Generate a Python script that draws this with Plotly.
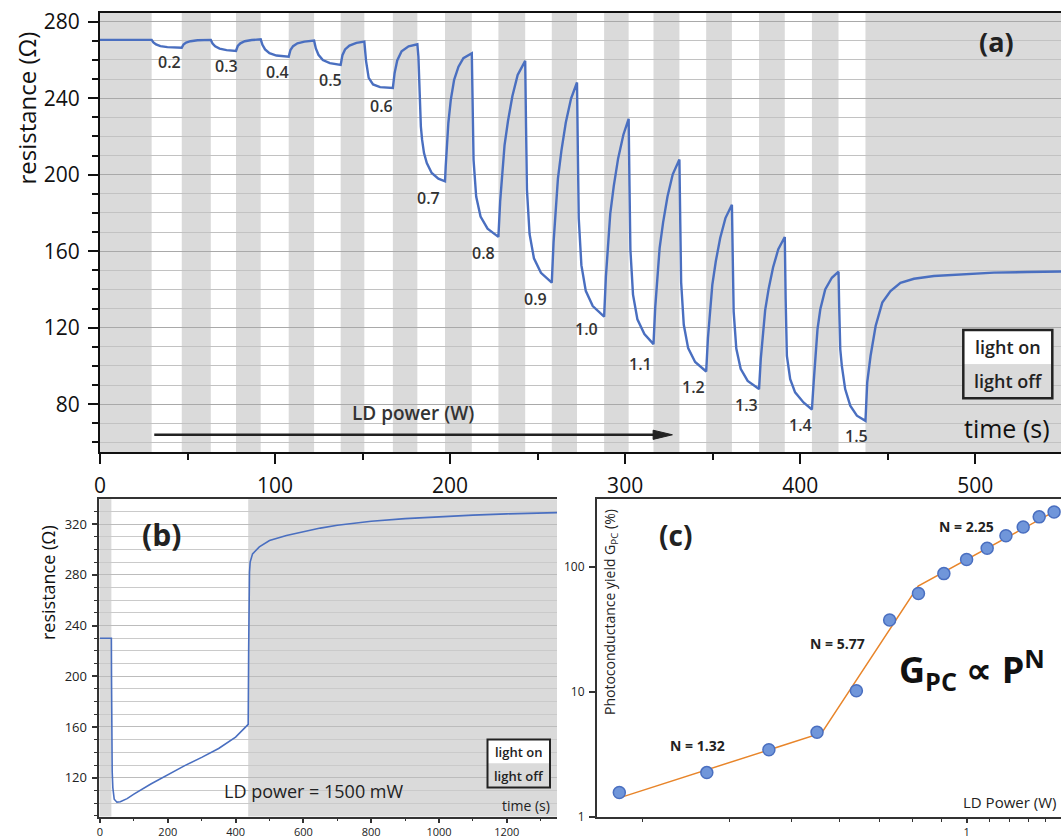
import plotly.graph_objects as go

W, H = 1061, 840
def px(x):
    return x / W
def py(y):
    return 1 - y / H

FONT = "Open Sans"
BLUE = "#4a6fc0"
BAND = "#dadada"

# ---------------- panel (a) data ----------------
on_start_a = [29.5, 63.3, 91.8, 122.3, 151.0, 181.3, 212.4, 242.9, 272.5, 302.0, 331.0, 361.0, 391.2, 421.9]
on_end_a = [46.7, 77.7, 107.8, 137.5, 167.3, 197.1, 227.6, 258.1, 288.0, 316.2, 346.3, 376.5, 406.7, 437.3]
power_labels = ["0.2", "0.3", "0.4", "0.5", "0.6", "0.7", "0.8", "0.9", "1.0", "1.1", "1.2", "1.3", "1.4", "1.5"]
label_t = [39.6, 72.0, 101.3, 131.4, 161.0, 187.6, 219.0, 248.6, 278.1, 308.6, 339.0, 369.5, 400.0, 432.4]
label_r = [258.8, 257.0, 253.9, 249.6, 236.0, 187.9, 158.8, 135.2, 119.2, 100.9, 88.8, 79.5, 68.9, 63.5]

time_a = [0, 29.5,
          30.5, 32.0, 34.5, 38.5, 46.7, 47.7, 49.2, 51.7, 55.7, 63.3,
          64.3, 65.8, 68.3, 72.3, 77.7, 78.7, 80.2, 82.7, 86.7, 91.8,
          92.8, 94.3, 96.8, 100.8, 107.8, 108.8, 110.3, 112.8, 116.8, 122.3,
          123.3, 124.8, 127.3, 131.3, 137.5, 138.5, 140.0, 142.5, 146.5, 151.0,
          152.0, 153.5, 156.0, 160.0, 167.3, 168.3, 169.8, 172.3, 176.3, 181.3,
          181.9, 182.5, 183.3, 184.0, 185.1, 186.7, 189.5, 193.3, 197.1, 197.5, 198.1, 199.0, 200.4, 202.3, 204.8, 207.6, 212.4,
          212.9, 213.4, 214.9, 217.4, 221.4, 227.6, 228.6, 229.6, 231.1, 233.1, 235.6, 238.6, 242.9,
          243.4, 243.9, 245.4, 247.9, 251.9, 258.1, 259.1, 260.1, 261.6, 263.6, 266.1, 269.1, 272.5,
          273.0, 273.5, 275.0, 277.5, 281.5, 288.0, 289.0, 290.0, 291.5, 293.5, 296.0, 299.0, 302.0,
          302.5, 303.0, 304.5, 307.0, 311.0, 316.2, 317.2, 318.2, 319.7, 321.7, 324.2, 327.2, 331.0,
          331.5, 332.0, 333.5, 336.0, 340.0, 346.3, 347.3, 348.3, 349.8, 351.8, 354.3, 357.3, 361.0,
          361.5, 362.0, 363.5, 366.0, 370.0, 376.5, 377.5, 378.5, 380.0, 382.0, 384.5, 387.5, 391.2,
          391.7, 392.4, 394.3, 397.1, 401.9, 406.7, 407.7, 408.6, 409.9, 411.5, 414.3, 418.1, 421.9,
          422.3, 422.9, 423.8, 425.7, 428.6, 432.4, 437.3, 438.3, 440.2, 443.1, 446.9, 451.6, 457.3, 465.0, 476.4, 491.6, 510.7, 529.7, 549.0]
res_a = [270.5, 270.5,
         269.2, 268.1, 267.2, 266.7, 266.4, 268.1, 269.1, 269.8, 270.3, 270.5,
         268.6, 267.1, 265.9, 265.1, 264.7, 267.3, 268.7, 269.8, 270.4, 270.8,
         267.9, 265.5, 263.5, 262.3, 261.7, 265.2, 267.2, 268.7, 269.6, 270.1,
         266.0, 262.7, 259.9, 258.3, 257.4, 262.5, 265.5, 267.5, 268.9, 269.6,
         259.4, 250.6, 247.2, 245.8, 245.3, 253.1, 259.7, 264.5, 267.1, 268.2,
         261.7, 246.1, 225.2, 218.3, 211.3, 206.1, 200.9, 197.9, 196.5, 204.3, 216.5, 227.0, 239.1, 249.6, 256.5, 260.9, 263.5,
         234.7, 207.8, 188.6, 178.1, 171.8, 167.5, 185.9, 199.7, 215.3, 228.2, 241.1, 252.1, 259.5,
         224.7, 192.2, 169.0, 156.3, 148.7, 143.5, 164.4, 180.1, 197.9, 212.6, 227.3, 239.8, 248.2,
         211.5, 177.2, 152.7, 139.3, 131.3, 125.8, 146.5, 162.0, 179.6, 194.0, 208.5, 220.9, 229.2,
         193.9, 160.9, 137.3, 124.4, 116.7, 111.4, 130.7, 145.2, 161.6, 175.1, 188.6, 200.2, 207.9,
         174.7, 143.6, 121.5, 109.3, 102.1, 97.1, 114.5, 127.6, 142.4, 154.7, 166.9, 177.3, 184.3,
         155.4, 128.4, 109.1, 98.5, 92.2, 87.9, 103.8, 115.7, 129.2, 140.4, 151.5, 161.0, 167.4,
         135.0, 105.2, 93.1, 86.2, 80.9, 77.2, 91.4, 105.2, 119.2, 129.6, 140.0, 146.1, 149.3,
         130.0, 108.7, 100.0, 87.9, 79.2, 74.0, 71.3, 91.4, 105.2, 120.9, 133.1, 139.2, 143.5, 145.6, 147.0, 147.9, 148.8, 149.1, 149.4]

# ---------------- panel (b) data ----------------
on_start_b = [33.6]
on_end_b = [437.2]
time_b = [0, 33.6, 34.0, 34.5, 35.0, 36.0, 38.0, 42.0, 50.0, 60.0, 80.0, 100.0, 150.0, 200.0, 250.0, 300.0,
          350.0, 400.0, 437.2, 438.5, 439.5, 441.0, 443.0, 450.0, 470.0, 500.0, 550.0, 600.0, 650.0, 700.0,
          750.0, 800.0, 900.0, 1000.0, 1100.0, 1200.0, 1348.0]
res_b = [230.0, 230.0, 200.0, 157.0, 140.0, 125.0, 112.0, 103.0, 100.7, 101.0, 103.5, 107.0, 115.0, 122.5, 129.5, 136.0,
         143.0, 152.0, 162.0, 220.0, 260.0, 282.0, 290.0, 296.5, 302.0, 307.0, 311.0, 314.0, 316.8, 319.0,
         320.8, 322.2, 324.3, 325.8, 327.0, 328.0, 329.0]

# ---------------- panel (c) data ----------------
ld_power = [0.2, 0.3, 0.4, 0.5, 0.6, 0.7, 0.8, 0.9, 1.0, 1.1, 1.2, 1.3, 1.4, 1.5]
gpc = [1.56, 2.25, 3.43, 4.74, 10.2, 37.7, 61.5, 88.7, 115, 141.7, 178.6, 209.6, 253, 277]
fit_p = [0.2, 0.511, 0.799, 1.5]
fit_g = [1.41, 4.68, 70.6, 278.6]
c_minor_ticks = [2/9, 3/9, 4/9, 5/9, 6/9, 7/9, 8/9, 10/9, 11/9, 12/9, 13/9]

B_BOTTOM = 816.5

fig = go.Figure()

fig.add_trace(go.Scatter(x=time_a, y=res_a, mode="lines", line=dict(color=BLUE, width=2.4),
                         xaxis="x", yaxis="y", showlegend=False, hoverinfo="skip"))
fig.add_trace(go.Scatter(x=time_b, y=res_b, mode="lines", line=dict(color=BLUE, width=1.6),
                         xaxis="x2", yaxis="y2", showlegend=False, hoverinfo="skip"))
fig.add_trace(go.Scatter(x=fit_p, y=fit_g, mode="lines", line=dict(color="#e8852a", width=1.5),
                         xaxis="x3", yaxis="y3", showlegend=False, hoverinfo="skip"))
fig.add_trace(go.Scatter(x=ld_power, y=gpc, mode="markers",
                         marker=dict(size=12, color="#7096da", line=dict(color="#4a6fc0", width=1.5)),
                         xaxis="x3", yaxis="y3", showlegend=False, hoverinfo="skip", cliponaxis=False))

shapes = []
xa_max = 549
edges = [0] + [v for pair in zip(on_start_a, on_end_a) for v in pair] + [xa_max]
for i in range(0, len(edges), 2):
    shapes.append(dict(type="rect", xref="x", yref="y domain", x0=edges[i], x1=edges[i + 1], y0=0, y1=1,
                       fillcolor=BAND, line=dict(width=0), layer="below"))
edges_b = [-2] + [v for pair in zip(on_start_b, on_end_b) for v in pair] + [1348]
for i in range(0, len(edges_b), 2):
    shapes.append(dict(type="rect", xref="x2", yref="y2 domain", x0=edges_b[i], x1=edges_b[i + 1], y0=0, y1=1,
                       fillcolor=BAND, line=dict(width=0), layer="below"))

# arrow along LD power direction (panel a)
shapes.append(dict(type="line", xref="x", yref="y", x0=31, x1=318, y0=64, y1=64,
                   line=dict(color="#222", width=2.5), layer="above"))
shapes.append(dict(type="path", xref="x", yref="y", path="M 316,61.6 L 327,64 L 316,66.4 Z",
                   fillcolor="#222", line=dict(color="#222", width=1), layer="above"))

def legend_box(x0, x1, y0, y1, lw):
    ym = (y0 + y1) / 2
    shapes.append(dict(type="rect", xref="paper", yref="paper", x0=px(x0), x1=px(x1), y0=py(ym), y1=py(y0),
                       fillcolor="white", line=dict(width=0), layer="above"))
    shapes.append(dict(type="rect", xref="paper", yref="paper", x0=px(x0), x1=px(x1), y0=py(y1), y1=py(ym),
                       fillcolor=BAND, line=dict(width=0), layer="above"))
    shapes.append(dict(type="rect", xref="paper", yref="paper", x0=px(x0), x1=px(x1), y0=py(y1), y1=py(y0),
                       fillcolor="rgba(0,0,0,0)", line=dict(color="#222", width=lw), layer="above"))

legend_box(963.3, 1052.3, 330, 398.3, 2.5)
legend_box(487.5, 550, 739.5, 787.5, 2)

ann = []
def text(x, y, s, size, xref="paper", yref="paper", color="#222", weight="normal", angle=0):
    ann.append(dict(x=x, y=y, xref=xref, yref=yref, text=s, showarrow=False, textangle=angle,
                    xanchor="center", yanchor="middle",
                    font=dict(family=FONT, size=size, color=color, weight=weight)))

for s, t, r in zip(power_labels, label_t, label_r):
    text(t, r, s, 16, "x", "y", color="#333", weight=600)

text(px(996.7), py(41.7), "(a)", 27, weight="bold")
text(px(1007), py(428), "time (s)", 25, color="#111")
text(px(1007.8), py(347), "light on", 18, weight=600)
text(px(1007.8), py(381.5), "light off", 18, weight=600)
text(px(412.5), py(413), "LD power (W)", 19, weight=600, color="#333")
text(px(26), py(108.5), "resistance (Ω)", 24, angle=-90, color="#111")

text(px(161.6), py(534), "(b)", 30, weight="bold")
text(px(314), py(791), "LD power = 1500 mW", 18, color="#222")
text(px(525.5), py(805.5), "time (s)", 14, color="#222")
text(px(518.8), py(751.5), "light on", 13, weight=600)
text(px(518.8), py(775.5), "light off", 13, weight=600)
text(px(48), py(583), "resistance (Ω)", 18, angle=-90, color="#111")

text(px(675), py(535), "(c)", 28, weight="bold")
text(px(697), py(745), "N = 1.32", 14, weight="bold")
text(px(837.5), py(643), "N = 5.77", 14, weight="bold")
text(px(966), py(526), "N = 2.25", 14, weight="bold")
text(px(972), py(669), "G<sub>PC</sub> ∝ P<sup>N</sup>", 36, weight="bold", color="#111")
text(px(1009), py(802), "LD Power (W)", 15, color="#222")
text(px(610), py(612), "Photoconductance yield G<sub>PC</sub> (%)", 14, angle=-90, color="#222")

tick_common = dict(ticks="outside", showgrid=False, zeroline=False, automargin=False)

fig.update_layout(
    width=W, height=840, margin=dict(l=0, r=0, t=0, b=0),
    paper_bgcolor="white", plot_bgcolor="white",
    font=dict(family=FONT, color="#111"),
    shapes=shapes, annotations=ann,
    xaxis=dict(domain=[px(100), 1], range=[0, xa_max], anchor="y", tickmode="linear", tick0=0, dtick=100,
               ticklen=10, tickwidth=2, tickcolor="#111", showline=True, linecolor="#111", linewidth=2,
               mirror=True, tickfont=dict(size=21, color="#111"), ticklabelstandoff=4,
               minor=dict(tick0=0, dtick=50, ticks="outside", ticklen=6, tickwidth=1.5, tickcolor="#111"),
               **tick_common),
    yaxis=dict(domain=[py(452), py(12.7)], range=[55, 284.7], anchor="x", tickmode="linear", tick0=0, dtick=40,
               ticklen=10, tickwidth=2, tickcolor="#111", showline=True, linecolor="#111", linewidth=2,
               tickfont=dict(size=21, color="#111"), ticklabelstandoff=4,
               ticks="outside", zeroline=False, automargin=False,
               showgrid=True, gridcolor="#a9a9a9", gridwidth=1,
               minor=dict(tick0=0, dtick=10, ticks="outside", ticklen=6, tickwidth=1.5, tickcolor="#111",
                          showgrid=True, gridcolor="#c2c2c2", gridwidth=1)),
    xaxis2=dict(domain=[px(99.3), px(557)], range=[-2, 1348], anchor="y2", tickmode="linear", tick0=0, dtick=200,
                ticklen=5, tickwidth=1.5, tickcolor="#333", showline=True, linecolor="#333", linewidth=1.5,
                mirror=True, tickfont=dict(size=11, color="#222"), ticklabelstandoff=0,
                minor=dict(tick0=0, dtick=100, ticks="outside", ticklen=3, tickwidth=1, tickcolor="#333"),
                **tick_common),
    yaxis2=dict(domain=[py(B_BOTTOM), py(499.3)], range=[89.4, 339.5], anchor="x2", tickmode="linear", tick0=0, dtick=40,
                ticklen=6, tickwidth=1.5, tickcolor="#333", showline=True, linecolor="#333", linewidth=1.5,
                tickfont=dict(size=13, color="#222"), ticklabelstandoff=2,
                ticks="outside", zeroline=False, automargin=False,
                showgrid=True, gridcolor="#bcbcbc", gridwidth=1,
                minor=dict(tick0=0, dtick=10, ticks="outside", ticklen=4, tickwidth=1, tickcolor="#333",
                           showgrid=True, gridcolor="#cacaca", gridwidth=1)),
    xaxis3=dict(domain=[px(596.7), 1], type="log", range=[-0.7445, 0.19], anchor="y3", tickmode="array",
                tickvals=[1], ticktext=["1"], ticklen=5, tickwidth=1.5, tickcolor="#333",
                showline=True, linecolor="#333", linewidth=1.5, mirror=True,
                tickfont=dict(size=11, color="#222"), ticklabelstandoff=0,
                minor=dict(tickmode="array", tickvals=c_minor_ticks, ticks="outside", ticklen=4, tickwidth=1.2,
                           tickcolor="#333"),
                **tick_common),
    yaxis3=dict(domain=[py(B_BOTTOM), py(499.3)], type="log", range=[0, 2.544], anchor="x3", tickmode="array",
                tickvals=[1, 10, 100], ticktext=["1", "10", "100"], ticklen=6, tickwidth=1.5, tickcolor="#333",
                showline=True, linecolor="#333", linewidth=1.5,
                tickfont=dict(size=12, color="#222"), ticklabelstandoff=2,
                **tick_common),
)

fig.write_html("out.html")
